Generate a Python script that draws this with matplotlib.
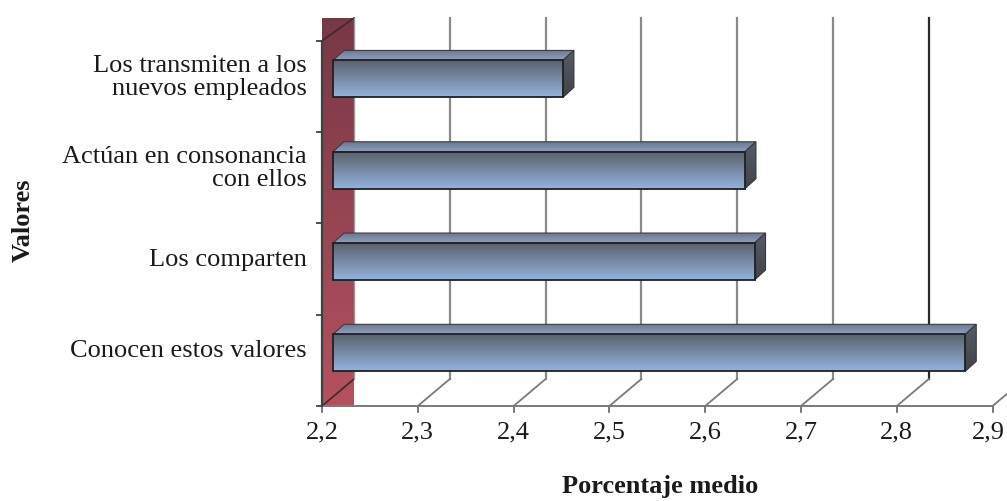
import numpy as np
import matplotlib
matplotlib.use("Agg")
import matplotlib.pyplot as plt
from matplotlib.patches import Polygon
from matplotlib.colors import to_rgb

# ---- data -------------------------------------------------------------
categories = [
    "Conocen estos valores",
    "Los comparten",
    "Actúan en consonancia\ncon ellos",
    "Los transmiten a los\nnuevos empleados",
]
values = [2.86, 2.64, 2.63, 2.44]
tick_values = [2.2, 2.3, 2.4, 2.5, 2.6, 2.7, 2.8, 2.9]
tick_labels = ["2,2", "2,3", "2,4", "2,5", "2,6", "2,7", "2,8", "2,9"]
x_title = "Porcentaje medio"
y_title = "Valores"

# ---- geometry of the pseudo-3D frame (data units) ----------------------
W, H = 1007, 502
X0 = 2.2
PX = 1 / 958.0          # value units per pixel
PY = 1 / 91.3           # category units per pixel
DEPTH_X = 32 * PX       # wall depth offset
DEPTH_Y = 27 * PY
WALL_TOP = 4.25
BAR_OFF_X = 11 * PX     # bar front plane offset
BAR_DX = 11 * PX        # bar depth
BAR_DY = 10 * PY
BAR_LO, BAR_HI = 0.38, 0.785

plt.rcParams["font.family"] = ["Liberation Serif", "DejaVu Serif"]
FS = 19

fig = plt.figure(figsize=(W / 100, H / 100), dpi=100)
ax = fig.add_axes([0, 0, 1, 1])
ax.set_axis_off()
xlim = (X0 - 322 * PX, X0 + (W - 322) * PX)
ylim = (-(H - 407) * PY, 407 * PY)


def grad_poly(verts, c_top, c_bot, z, ec="none", lw=0.0):
    poly = Polygon(verts, closed=True, facecolor="none", edgecolor=ec,
                   linewidth=lw, zorder=z + 0.1)
    ax.add_patch(poly)
    xs = [p[0] for p in verts]
    ys = [p[1] for p in verts]
    t = np.linspace(0, 1, 128)[:, None]
    a, b = np.array(to_rgb(c_top)), np.array(to_rgb(c_bot))
    img = (a * (1 - t) + b * t)[:, None, :]
    im = ax.imshow(img, extent=[min(xs), max(xs), min(ys), max(ys)],
                   origin="upper", aspect="auto", interpolation="bilinear",
                   zorder=z)
    im.set_clip_path(poly)
    return poly


# side wall (red)
grad_poly([(X0, 0), (X0 + DEPTH_X, 0), (X0 + DEPTH_X, WALL_TOP), (X0, WALL_TOP)],
          "#773846", "#b5515f", 1)
ax.plot([X0, X0 + DEPTH_X], [0, DEPTH_Y], color="#3a2a2e", lw=1.2, zorder=2)
ax.plot([X0, X0 + DEPTH_X], [4.0, WALL_TOP], color="#3a2a2e", lw=1.2, zorder=2)

# back-wall gridlines and floor diagonals
for v in tick_values:
    col = "#2a2a2a" if abs(v - 2.8) < 1e-9 else "#8a8a8a"
    if v > X0 + 1e-9:
        ax.plot([v + DEPTH_X, v + DEPTH_X], [DEPTH_Y, WALL_TOP], color=col, lw=1.6, zorder=1.5)
        ax.plot([v, v + DEPTH_X], [0, DEPTH_Y], color="#7a7a7a", lw=1.3, zorder=1.5)
    else:
        ax.plot([v + DEPTH_X, v + DEPTH_X], [DEPTH_Y, WALL_TOP], color="#9a9a9a", lw=1.0, zorder=2)
    ax.plot([v, v], [0, -6 * PY], color="#606060", lw=1.2, zorder=2)

# floor front edge
ax.plot([X0, tick_values[-1]], [0, 0], color="#7a7a7a", lw=1.4, zorder=2)

# category axis
ax.plot([X0, X0], [0, 4.0], color="#404040", lw=1.6, zorder=2.5)
for k in range(5):
    ax.plot([X0 - 5 * PX, X0], [k, k], color="#404040", lw=1.3, zorder=2.5)

# bars
for i, v in enumerate(values):
    x0 = X0 + BAR_OFF_X
    x1 = v + BAR_OFF_X
    yb, yt = i + BAR_LO, i + BAR_HI
    # side face
    grad_poly([(x1, yb), (x1, yt), (x1 + BAR_DX, yt + BAR_DY), (x1 + BAR_DX, yb + BAR_DY)],
              "#585c65", "#40434a", 3, ec="#35383e", lw=0.8)
    # top face
    grad_poly([(x0, yt), (x1, yt), (x1 + BAR_DX, yt + BAR_DY), (x0 + BAR_DX, yt + BAR_DY)],
              "#6c7891", "#8e9fbe", 3, ec="#3a3d44", lw=0.8)
    # front face
    grad_poly([(x0, yb), (x1, yb), (x1, yt), (x0, yt)],
              "#5a6270", "#93b3dc", 4, ec="#202020", lw=1.3)

# category labels
for i, lab in enumerate(categories):
    ax.text(X0 - 15 * PX, i + 0.61, lab, ha="right", va="center",
            fontsize=FS, linespacing=1.05, color="#1a1a1a", zorder=5)

# value tick labels (the last one is kept inside the canvas)
for k, (v, lab) in enumerate(zip(tick_values, tick_labels)):
    if k == len(tick_values) - 1:
        ax.text(xlim[1] - 2 * PX, -25 * PY, lab, ha="right", va="center",
                fontsize=FS, color="#1a1a1a", zorder=5)
    else:
        ax.text(v, -25 * PY, lab, ha="center", va="center", fontsize=FS,
                color="#1a1a1a", zorder=5)

# axis titles
ax.text(X0 + 338 * PX, -80 * PY, x_title, ha="center", va="center",
        fontsize=FS, fontweight="bold", color="#1a1a1a")
ax.text(X0 - 299 * PX, (407 - 220) * PY, y_title, ha="center", va="center",
        rotation=90, fontsize=FS, fontweight="bold", color="#1a1a1a")

ax.set_xlim(*xlim)
ax.set_ylim(*ylim)
fig.savefig("out.png", dpi=100, facecolor="white")
